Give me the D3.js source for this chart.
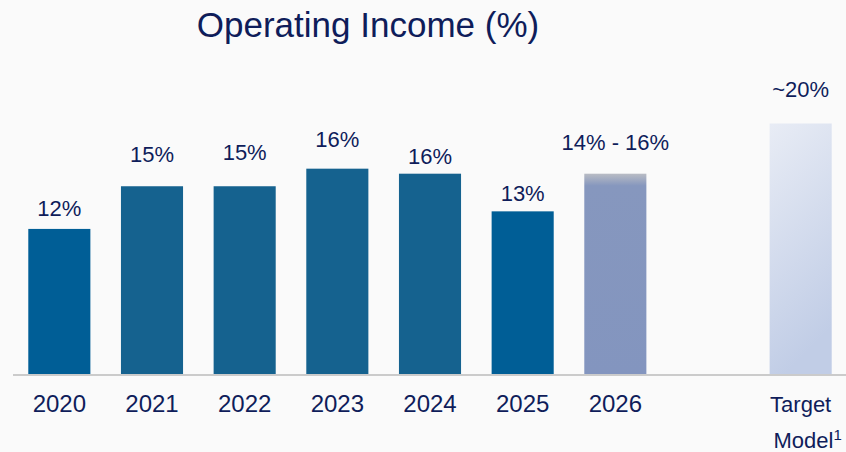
<!DOCTYPE html>
<html>

<head>
    <script src="https://cdnjs.cloudflare.com/ajax/libs/d3/7.8.5/d3.min.js"></script>
    <style>
        body {
            margin: 0;
            background: #fafafa;
        }

        text {
            font-family: 'Liberation Sans', Arial, sans-serif;
            fill: #0f1d5a;
        }
    </style>
</head>

<body>
    <script>
        // data
        const categories = ["2020", "2021", "2022", "2023", "2024", "2025", "2026", "Target Model"]
        const values = [11.6, 15.0, 15.0, 16.4, 16.0, 13.0, 16.0, 20.0]
        const valueLabels = ["12%", "15%", "15%", "16%", "16%", "13%", "14% - 16%", "~20%"]

        const w = 846
        const h = 452
        const baseline = 374.5

        // label gaps above each bar (px), as placed in the original
        const labelGap = [13, 24, 26, 22, 10, 10, 24, 27]
        const barColors = ["#005e96", "#15628f", "#15628f", "#15628f", "#15628f", "#005e96", "url(#g2026)", "url(#gTarget)"]

        const svg = d3.select("body")
            .append("svg")
            .attr("width", w)
            .attr("height", h)

        const defs = svg.append("defs")
        const g1 = defs.append("linearGradient").attr("id", "g2026")
            .attr("x1", 0).attr("y1", 0).attr("x2", 0).attr("y2", 1)
        g1.append("stop").attr("offset", "0%").attr("stop-color", "#b9bcc4")
        g1.append("stop").attr("offset", "6%").attr("stop-color", "#8697be")
        g1.append("stop").attr("offset", "100%").attr("stop-color", "#8395bf")

        const g2 = defs.append("linearGradient").attr("id", "gTarget")
            .attr("x1", 0).attr("y1", 0).attr("x2", 0.25).attr("y2", 1)
        g2.append("stop").attr("offset", "0%").attr("stop-color", "#e8ecf5")
        g2.append("stop").attr("offset", "100%").attr("stop-color", "#c1cde6")

        // one empty slot between 2026 and the target
        const domain = categories.slice(0, 7).concat(["gap"], categories.slice(7))

        const x = d3.scaleBand()
            .domain(domain)
            .range([13, 847])
            .paddingInner(0.33)
            .paddingOuter(0.165)

        const y = d3.scaleLinear()
            .domain([0, 20])
            .range([baseline, baseline - 251])

        const data = categories.map((c, i) => ({ cat: c, value: values[i], label: valueLabels[i], i: i }))

        // title
        svg.append("text")
            .attr("x", 368)
            .attr("y", 37)
            .attr("text-anchor", "middle")
            .style("font-size", "35px")
            .text("Operating Income (%)")

        svg.selectAll("rect.bar")
            .data(data)
            .enter()
            .append("rect")
            .attr("class", "bar")
            .attr("x", d => x(d.cat))
            .attr("y", d => y(d.value))
            .attr("width", x.bandwidth())
            .attr("height", d => baseline - y(d.value))
            .attr("fill", d => barColors[d.i])

        // axis line
        svg.append("line")
            .attr("x1", 13)
            .attr("x2", w)
            .attr("y1", baseline + 0.5)
            .attr("y2", baseline + 0.5)
            .attr("stroke", "#cbcbcb")
            .attr("stroke-width", 2)

        svg.selectAll("text.val")
            .data(data)
            .enter()
            .append("text")
            .attr("class", "val")
            .attr("x", d => x(d.cat) + x.bandwidth() / 2)
            .attr("y", d => y(d.value) - labelGap[d.i])
            .attr("text-anchor", "middle")
            .style("font-size", "22px")
            .text(d => d.label)

        // category labels
        const years = data.filter(d => d.cat !== "Target Model")
        svg.selectAll("text.cat")
            .data(years)
            .enter()
            .append("text")
            .attr("class", "cat")
            .attr("x", d => x(d.cat) + x.bandwidth() / 2)
            .attr("y", 412)
            .attr("text-anchor", "middle")
            .style("font-size", "24px")
            .text(d => d.cat)

        const tx = x("Target Model") + x.bandwidth() / 2
        svg.append("text")
            .attr("x", tx)
            .attr("y", 412)
            .attr("text-anchor", "middle")
            .style("font-size", "22px")
            .text("Target")

        const model = svg.append("text")
            .attr("x", tx + 7)
            .attr("y", 448)
            .attr("text-anchor", "middle")
            .style("font-size", "22px")
        model.append("tspan").text("Model")
        model.append("tspan")
            .attr("dy", -8)
            .style("font-size", "15px")
            .text("1")
    </script>
</body>

</html>
